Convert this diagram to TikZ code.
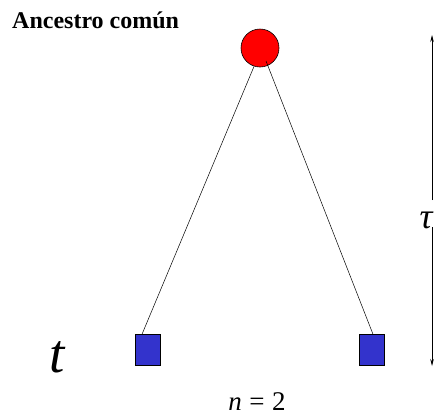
\documentclass[tikz,border=0pt]{standalone}
\usepackage{fontspec}
\setmainfont{Liberation Serif}
\usetikzlibrary{arrows.meta}
\definecolor{sqblue}{RGB}{51,51,204}
\begin{document}
\begin{tikzpicture}[x=1pt,y=-1pt,
  anc/.style={circle,draw=black,fill=red,minimum size=38pt,inner sep=0pt,line width=0.6pt},
  leaf/.style={rectangle,draw=black,fill=sqblue,minimum width=25pt,minimum height=31pt,inner sep=0pt,line width=0.5pt},
  branch/.style={draw=black,line width=0.5pt},
  lbl/.style={inner sep=0pt,anchor=base},
  dim/.style={draw=black,line width=0.6pt,-{Stealth[length=7pt,width=3.5pt]}}]
\useasboundingbox (0,0) rectangle (435,416);
\node[lbl,anchor=base west,font=\bfseries\fontsize{24}{26}\selectfont] (title) at (12,28.5) {Ancestro común};
\node[anc] (c) at (260,48) {};
\node[leaf] (l) at (147.5,350) {};
\node[leaf] (r) at (372,350) {};
\coordinate (rs) at (266,61);
\draw[branch] (c.-108) -- (l.north west -| 142,0);
\draw[branch] (rs) -- (r.north -| 373,0);
\node[lbl,font=\itshape\fontsize{55}{60}\selectfont] (t) at (57,372) {t};
\node[lbl,font=\fontsize{27}{30}\selectfont] (n) at (257,410) {\textit{n}\hspace{0.28em}=\hspace{0.28em}2};
\node[lbl,font=\itshape\fontsize{36}{40}\selectfont] (tau) at (426,228) {τ};
\coordinate (top) at (432,35);
\coordinate (bot) at (432,366);
\coordinate (ua) at (432,200);
\coordinate (la) at (432,227);
\draw[dim] (ua) -- (top);
\draw[dim] (la) -- (bot);
\end{tikzpicture}
\end{document}
